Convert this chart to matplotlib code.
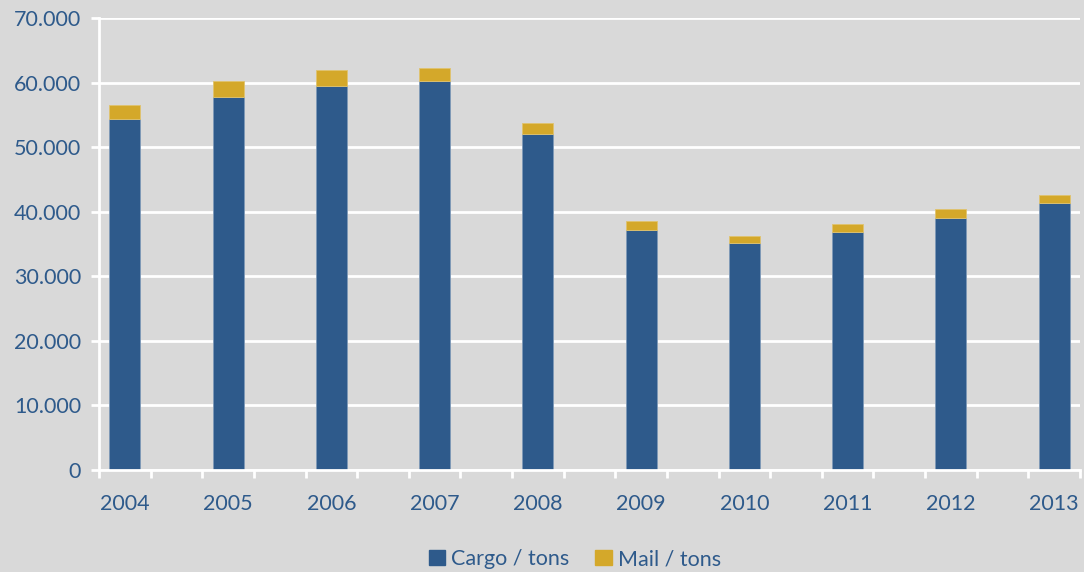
import matplotlib.pyplot as plt
from matplotlib.ticker import FuncFormatter, MultipleLocator, FixedLocator
from matplotlib.patches import Patch

years = ["2004", "2005", "2006", "2007", "2008", "2009", "2010", "2011", "2012", "2013"]
cargo = [54300, 57800, 59500, 60200, 52000, 37100, 35100, 36800, 39100, 41300]
mail = [2300, 2500, 2500, 2000, 1800, 1400, 1200, 1300, 1300, 1300]

blue = "#2E5A8B"
gold = "#D4A82A"
bg = "#D9D9D9"
txt = "#2E5A8B"

plt.rcParams['font.family'] = ['Lato', 'DejaVu Sans']

fig = plt.figure(figsize=(10.84, 5.72), dpi=100, facecolor=bg)
ax = fig.add_axes([99/1084, 1-470/572, 981/1084, 452/572], facecolor=bg)

x = [2*i for i in range(len(years))]
ax.bar(x, cargo, width=0.6, color=blue, edgecolor="#7F9AB8", linewidth=0.6, zorder=3)
ax.bar(x, mail, bottom=cargo, width=0.6, color=gold, edgecolor="#E0C36E", linewidth=0.6, zorder=3)

ax.set_xlim(-0.5, 2*len(years)-1.5)
ax.set_ylim(0, 70000)
ax.yaxis.set_major_locator(MultipleLocator(10000))
ax.yaxis.set_major_formatter(FuncFormatter(lambda v, p: f"{int(v):,}".replace(",", ".")))
ax.grid(axis='y', color='white', linewidth=2, zorder=0)

ax.set_xticks(x)
ax.set_xticklabels(years)
ax.xaxis.set_minor_locator(FixedLocator([k-0.5 for k in range(2*len(years))]))
ax.tick_params(axis='x', which='major', length=0, pad=17, labelsize=15.5, labelcolor=txt)
ax.tick_params(axis='x', which='minor', length=6, width=2, color='white')
ax.tick_params(axis='y', length=6, width=2, color='white', labelsize=15.5, labelcolor=txt, pad=7)

for s in ['top', 'right']:
    ax.spines[s].set_visible(False)
for s in ['left', 'bottom']:
    ax.spines[s].set_color('white')
    ax.spines[s].set_linewidth(2)
    ax.spines[s].set_zorder(4)

handles = [Patch(color=blue, label="Cargo / tons"), Patch(color=gold, label="Mail / tons")]
fig.legend(handles=handles, loc='center', bbox_to_anchor=(575/1084, 1-559/572), ncol=2, frameon=False,
           fontsize=15.5, labelcolor=txt, handlelength=0.75, handleheight=0.75, handletextpad=0.3,
           columnspacing=1.2)

fig.savefig("out.png", dpi=100, facecolor=bg)
